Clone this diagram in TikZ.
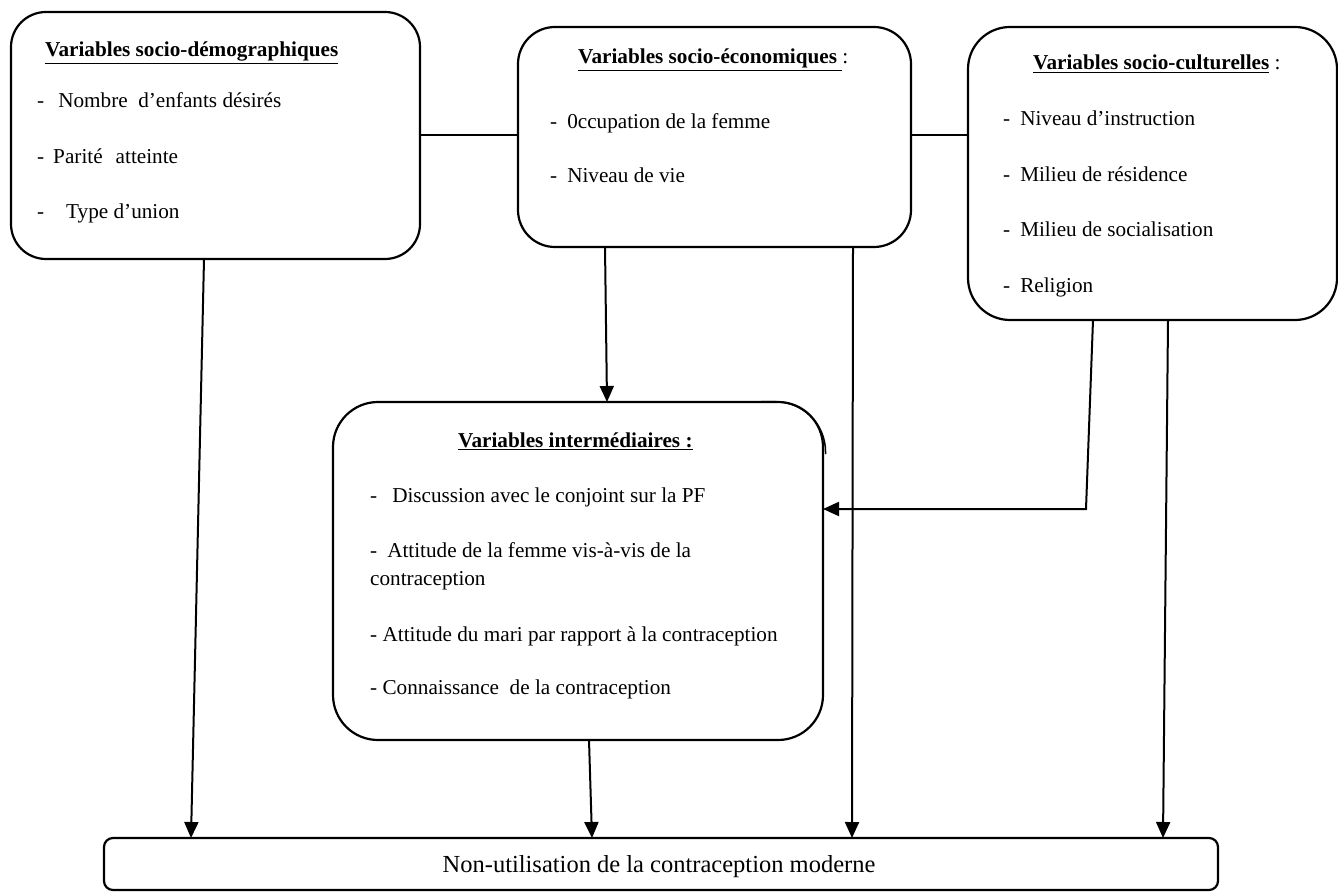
\documentclass[tikz,border=0pt]{standalone}
\usepackage{fontspec}
\setmainfont{Liberation Serif}
\usetikzlibrary{arrows.meta}
\newcommand{\fsn}{\fontsize{21.2}{25}\selectfont}
\newcommand{\fsbig}{\fontsize{24.5}{28}\selectfont}
\begin{document}
\begin{tikzpicture}[x=1pt,y=-1pt,
  box/.style={draw, line width=2.2pt, rounded corners=#1, anchor=north west, inner sep=0pt, outer sep=0pt},
  txt/.style={anchor=base west, inner sep=0pt, font=\fsn},
  conn/.style={line width=2pt},
  arr/.style={line width=2pt, -{Triangle[length=16pt,width=14pt]}}]
\useasboundingbox (0,0) rectangle (1338,893);

% boxes
\node[box=35pt, minimum width=409pt, minimum height=247pt] (A) at (11,12) {};
\node[box=37pt, minimum width=393pt, minimum height=220pt] (B) at (518,27) {};
\node[box=42pt, minimum width=369pt, minimum height=293pt] (C) at (968,27) {};
\node[box=45pt, minimum width=490pt, minimum height=338pt] (D) at (333,402) {};
\node[box=9pt, minimum width=1114pt, minimum height=52pt] (E) at (104,838) {};
\draw[line width=1.5pt, rounded corners=50pt]
  ([xshift=-62pt,yshift=0.3pt]D.north east) -- ([xshift=2.5pt,yshift=0.3pt]D.north east) -- ([xshift=2.5pt,yshift=-52pt]D.north east);

% box A texts
\node[txt] (a0) at (45,57) {\bfseries\underline{Variables socio-démographiques}};
\node[txt] (a1) at (37,108) {-\hspace{14pt}Nombre\ \ d’enfants désirés};
\node[txt] (a2) at (37,164) {-\hspace{9pt}Parité\hspace{13pt}atteinte};
\node[txt] (a3) at (37,219) {-\hspace{22pt}Type d’union};

% box B texts
\node[txt] (b0) at (578,64) {\textbf{\underline{Variables socio-économiques }}:};
\node[txt] (b1) at (550,129) {-\hspace{10pt}0ccupation de la femme};
\node[txt] (b2) at (550,183) {-\hspace{10pt}Niveau de vie};

% box C texts
\node[txt] (c0) at (1033,70) {\textbf{\underline{Variables socio-culturelles}} :};
\node[txt] (c1) at (1003,126) {-\hspace{10pt}Niveau d’instruction};
\node[txt] (c2) at (1003,182) {-\hspace{10pt}Milieu de résidence};
\node[txt] (c3) at (1003,237) {-\hspace{10pt}Milieu de socialisation};
\node[txt] (c4) at (1003,292) {-\hspace{10pt}Religion};

% box D texts
\node[txt] (d0) at (458,447) {\textbf{\underline{Variables intermédiaires :}}};
\node[txt] (d1) at (370,502) {-\hspace{15pt}Discussion avec le conjoint sur la PF};
\node[txt] (d2) at (370,557) {-\hspace{10pt}Attitude de la femme vis-à-vis de la};
\node[txt] (d3) at (370,585) {contraception};
\node[txt] (d4) at (370,641) {- Attitude du mari par rapport à la contraception};
\node[txt] (d5) at (370,694) {- Connaissance\ \ de la contraception};

% box E text
\node[anchor=base, inner sep=0pt, font=\fsbig] (e0) at (659,872) {Non-utilisation de la contraception moderne};

% connectors
\draw[conn] ([yshift=-123pt]A.north east) -- ([yshift=-108pt]B.north west);
\draw[conn] ([yshift=-108pt]B.north east) -- ([yshift=-108pt]C.north west);
\draw[arr] ([xshift=193pt]A.south west) -- ([xshift=87pt]E.north west);
\draw[arr] ([xshift=87pt]B.south west) -- ([xshift=274pt]D.north west);
\draw[arr] ([xshift=335pt]B.south west) -- ([xshift=748pt]E.north west);
\draw[arr] ([xshift=125pt]C.south west) -- ([xshift=118pt,yshift=-189pt]C.south west) -- ([yshift=-107pt]D.north east);
\draw[arr] ([xshift=200pt]C.south west) -- ([xshift=1059pt]E.north west);
\draw[arr] ([xshift=256pt]D.south west) -- ([xshift=488pt]E.north west);
\end{tikzpicture}
\end{document}
